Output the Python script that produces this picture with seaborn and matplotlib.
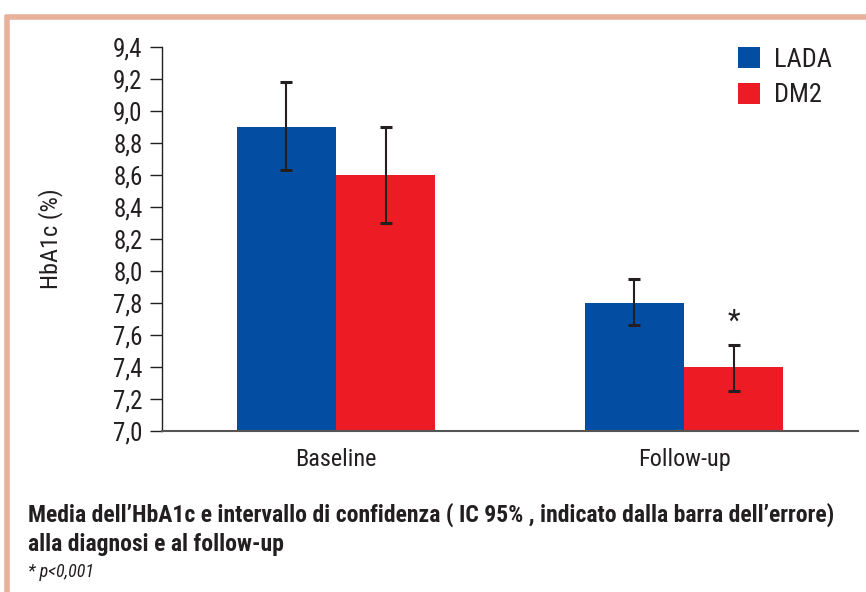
import matplotlib
matplotlib.use("Agg")
import matplotlib.pyplot as plt
from matplotlib import font_manager as fm
from matplotlib.lines import Line2D
from matplotlib.ticker import FixedLocator, FuncFormatter
import seaborn as sns
import pandas as pd

# HbA1c means and 95% CI bounds
timepoints = ["Baseline", "Follow-up"]
groups = ["LADA", "DM2"]
lada_mean = [8.9, 7.8]
lada_low = [8.63, 7.66]
lada_high = [9.18, 7.95]
dm2_mean = [8.6, 7.4]
dm2_low = [8.3, 7.25]
dm2_high = [8.9, 7.54]

colors = {"LADA": "#034ea2", "DM2": "#ed1c24"}
ink = "#231f20"

sns.set_style("white")

# pick a narrow sans face
installed = {f.name for f in fm.fontManager.ttflist}
narrow = next((n for n in ["Roboto Condensed", "Archivo Narrow", "Liberation Sans Narrow",
                           "Asap Condensed", "Barlow Semi Condensed"] if n in installed),
              "DejaVu Sans")
plt.rcParams["font.family"] = [narrow, "DejaVu Sans"]

df = pd.DataFrame({
    "timepoint": timepoints * 2,
    "group": [groups[0]] * 2 + [groups[1]] * 2,
    "hba1c": lada_mean + dm2_mean,
})

fig = plt.figure(figsize=(8.66, 5.92), dpi=100)
ax = fig.add_axes([162 / 866, 1 - 431 / 592, (858 - 162) / 866, (431 - 47) / 592])

sns.barplot(data=df, x="timepoint", y="hba1c", hue="group", order=timepoints,
            hue_order=groups, palette=colors, width=0.57, errorbar=None,
            saturation=1, linewidth=0, ax=ax, legend=True)

# confidence interval whiskers centred on each bar
bounds = {"LADA": (lada_mean, lada_low, lada_high), "DM2": (dm2_mean, dm2_low, dm2_high)}
for cont, g in zip(ax.containers, groups):
    means, lows, highs = bounds[g]
    xs = [p.get_x() + p.get_width() / 2 for p in cont]
    yerr = [[m - lo for m, lo in zip(means, lows)], [hi - m for m, hi in zip(means, highs)]]
    ax.errorbar(xs, means, yerr=yerr, fmt="none", ecolor=ink,
                elinewidth=1.5, capsize=4.5, capthick=2.2, zorder=5)
    if g == "DM2":
        ax.text(xs[1], highs[1] + 0.14, "*", ha="center", va="center",
                fontsize=21, color=ink)

ax.set_ylim(7.0, 9.4)
ax.set_xlim(-0.5, 1.5)
ax.yaxis.set_major_locator(FixedLocator([7.0 + 0.2 * i for i in range(13)]))
ax.yaxis.set_major_formatter(FuncFormatter(lambda v, _: f"{v:.1f}".replace(".", ",")))
ax.set_xticks([0, 1])
ax.set_xticklabels(timepoints)
ax.set_xticks([-0.5, 0.5, 1.5], minor=True)
ax.tick_params(axis="x", which="major", length=0, pad=12, labelsize=17.5, colors=ink)
ax.tick_params(axis="x", which="minor", length=9, width=1, color=ink, direction="out")
ax.tick_params(axis="y", length=9, width=1, color=ink, direction="out",
               labelsize=18, colors=ink, left=True, pad=5)

for side in ["top", "right"]:
    ax.spines[side].set_visible(False)
ax.spines["left"].set_color(ink)
ax.spines["left"].set_linewidth(1)
ax.spines["bottom"].set_color("#555555")
ax.spines["bottom"].set_linewidth(1.5)

ax.set_xlabel("")
ax.set_ylabel("HbA1c (%)", fontsize=17.5, color=ink, labelpad=36)

ax.legend_.remove()
handles = [plt.Rectangle((0, 0), 1, 1, color=colors[g], lw=0) for g in groups]
leg = fig.legend(handles, groups, loc="upper left", bbox_to_anchor=(738 / 866, 1 - 47 / 592),
                 bbox_transform=fig.transFigure, frameon=False, borderpad=0,
                 borderaxespad=0, fontsize=19, handlelength=0.82, handleheight=0.84,
                 handletextpad=0.55, labelspacing=0.42)
for t in leg.get_texts():
    t.set_color(ink)

# caption below the chart
fig.text(28 / 866, 1 - 515 / 592, "Media dell\u2019HbA1c e intervallo di confidenza ( IC 95% , indicato dalla barra dell\u2019errore)",
         fontsize=17, fontweight="bold", color=ink, va="center")
fig.text(28 / 866, 1 - 545 / 592, "alla diagnosi e al follow-up",
         fontsize=17, fontweight="bold", color=ink, va="center")
fig.text(28 / 866, 1 - 572 / 592, "* p<0,001", fontsize=13, fontstyle="italic",
         color=ink, va="center")

# salmon frame on top and left edges
frame_col = "#e9b09b"
fig.add_artist(Line2D([5 / 866, 1.0], [1 - 17 / 592] * 2, transform=fig.transFigure,
                      color=frame_col, lw=4, solid_capstyle="butt"))
fig.add_artist(Line2D([7 / 866] * 2, [1 - 15 / 592, 0.0], transform=fig.transFigure,
                      color=frame_col, lw=4, solid_capstyle="butt"))

fig.savefig("out.png", dpi=100)
